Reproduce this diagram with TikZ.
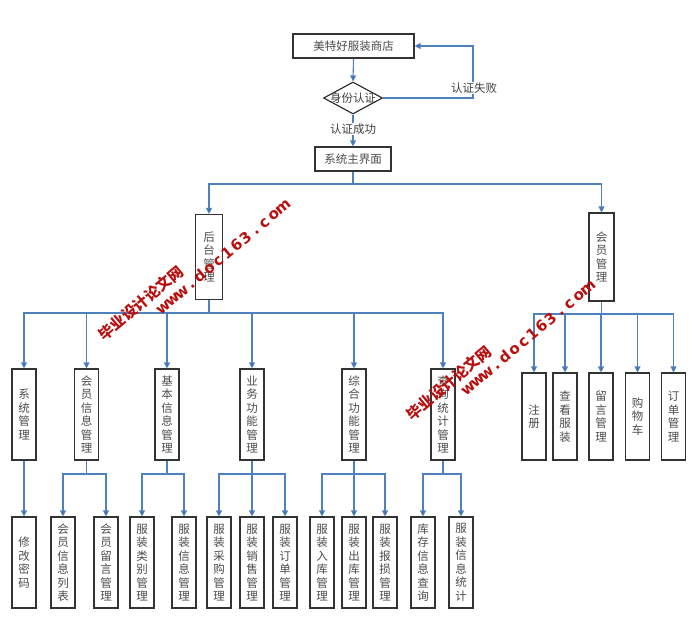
\documentclass[tikz,border=0pt]{standalone}
\usepackage{fontspec}
\setmainfont{Noto Sans CJK SC}
\newfontfamily\wmfont{DejaVu Sans}
\usetikzlibrary{arrows.meta,shapes.geometric}
\definecolor{linkblue}{RGB}{79,129,189}
\definecolor{arrowblue}{RGB}{62,102,170}
\definecolor{wmred}{RGB}{185,15,15}
\tikzset{
  box/.style={draw=black!80,line width=1.1pt,fill=white,inner sep=0pt,text=black!70,font=\fontsize{11.5}{13.5}\selectfont,align=center},
  hbox/.style={box,minimum height=24pt},
  vbox/.style={box,minimum width=24pt,minimum height=91pt,text width=12pt},
  link/.style={draw=linkblue,line width=1.1pt},
  arr/.style={link,-{Triangle[length=6pt,width=6pt,fill=arrowblue]}},
  lbl/.style={fill=white,inner sep=1pt,text=black!75,font=\fontsize{11.5}{13}\selectfont},
  wmcjk/.style={text=wmred,font=\bfseries\fontsize{15}{15}\selectfont,inner sep=0pt},
  wmark/.style={text=wmred,font=\wmfont\bfseries\fontsize{15}{15}\selectfont,anchor=base,inner sep=0pt}
}
\begin{document}
\begin{tikzpicture}[x=1pt,y=-1pt]
\path[fill=white,use as bounding box] (0,0) rectangle (694,630);
\node[hbox,minimum width=121pt] (shop) at (353.5,46) {美特好服装商店};
\node[diamond,draw=black!85,line width=1.1pt,minimum width=59pt,minimum height=32pt,inner sep=0pt] (auth) at (353,98) {};
\node[hbox,minimum width=76pt] (menu) at (353,159) {系统主界面};
\node[vbox,minimum width=27pt,minimum height=85pt] (back) at (209,257) {后\\台\\管\\理};
\node[vbox,minimum width=25pt,minimum height=88pt] (member) at (601.5,257) {会\\员\\管\\理};
\node[vbox] (sys) at (24,414.5) {系\\统\\管\\理};
\node[vbox] (vip) at (86.5,414.5) {会\\员\\信\\息\\管\\理};
\node[vbox] (basic) at (167,414.5) {基\\本\\信\\息\\管\\理};
\node[vbox] (biz) at (252,414.5) {业\\务\\功\\能\\管\\理};
\node[vbox] (comp) at (354,414.5) {综\\合\\功\\能\\管\\理};
\node[vbox] (stat) at (443,414.5) {查\\询\\统\\计\\管\\理};
\node[vbox,minimum height=87pt] (reg) at (534,416.5) {注\\册};
\node[vbox,minimum height=87pt] (view) at (565,416.5) {查\\看\\服\\装};
\node[vbox,minimum height=87pt] (msg) at (601,416.5) {留\\言\\管\\理};
\node[vbox,minimum height=87pt] (cart) at (637.5,416.5) {购\\物\\车};
\node[vbox,minimum height=87pt] (order) at (673.5,416.5) {订\\单\\管\\理};
\node[vbox] (pwd) at (24,562.5) {修\\改\\密\\码};
\node[vbox] (vlist) at (63,562.5) {会\\员\\信\\息\\列\\表};
\node[vbox] (vmsg) at (106,562.5) {会\\员\\留\\言\\管\\理};
\node[vbox] (ctype) at (142,562.5) {服\\装\\类\\别\\管\\理};
\node[vbox] (cinfo) at (184,562.5) {服\\装\\信\\息\\管\\理};
\node[vbox] (cbuy) at (219,562.5) {服\\装\\采\\购\\管\\理};
\node[vbox] (csale) at (252,562.5) {服\\装\\销\\售\\管\\理};
\node[vbox] (corder) at (285,562.5) {服\\装\\订\\单\\管\\理};
\node[vbox] (cin) at (322,562.5) {服\\装\\入\\库\\管\\理};
\node[vbox] (cout) at (354,562.5) {服\\装\\出\\库\\管\\理};
\node[vbox] (closs) at (385,562.5) {服\\装\\报\\损\\管\\理};
\node[vbox] (squery) at (423,562.5) {库\\存\\信\\息\\查\\询};
\node[vbox] (sstat) at (461,562.5) {服\\装\\信\\息\\统\\计};
\coordinate (failC) at (473,98);
\coordinate (busTop) at (353,184);
\coordinate (busL) at (209,313);
\coordinate (busR) at (601.5,314);
\coordinate (busVip) at (86.5,474);
\coordinate (busBasic) at (167,474);
\coordinate (busBiz) at (252,474);
\coordinate (busComp) at (354,474);
\coordinate (busStat) at (443,474);
\draw[arr] (shop.south) -- (auth.north);
\draw[arr] (auth.south) -- (menu.north);
\draw[arr] (auth.east) -- (failC) |- (shop.east);
\draw[link] (menu.south) -- (busTop);
\draw[arr] (busTop) -| (back.north);
\draw[arr] (busTop) -| (member.north);
\draw[link] (back.south) -- (busL);
\draw[arr] (busL) -| (sys.north);
\draw[arr] (busL) -| (vip.north);
\draw[arr] (busL) -| (basic.north);
\draw[arr] (busL) -| (biz.north);
\draw[arr] (busL) -| (comp.north);
\draw[arr] (busL) -| (stat.north);
\draw[link] (member.south) -- (busR);
\draw[arr] (busR) -| (reg.north);
\draw[arr] (busR) -| (view.north);
\draw[arr] (busR) -| (msg.north);
\draw[arr] (busR) -| (cart.north);
\draw[arr] (busR) -| (order.north);
\draw[arr] (sys.south) -- (pwd.north);
\draw[link] (vip.south) -- (busVip);
\draw[arr] (busVip) -| (vlist.north);
\draw[arr] (busVip) -| (vmsg.north);
\draw[link] (basic.south) -- (busBasic);
\draw[arr] (busBasic) -| (ctype.north);
\draw[arr] (busBasic) -| (cinfo.north);
\draw[link] (biz.south) -- (busBiz);
\draw[arr] (busBiz) -| (cbuy.north);
\draw[arr] (busBiz) -- (csale.north);
\draw[arr] (busBiz) -| (corder.north);
\draw[link] (comp.south) -- (busComp);
\draw[arr] (busComp) -| (cin.north);
\draw[arr] (busComp) -- (cout.north);
\draw[arr] (busComp) -| (closs.north);
\draw[link] (stat.south) -- (busStat);
\draw[arr] (busStat) -| (squery.north);
\draw[arr] (busStat) -| (sstat.north);
\node[lbl,fill=none] (authTxt) at (auth) {身份认证};
\node[lbl] (okLbl) at (353,129) {认证成功};
\node[lbl] (failLbl) at (474,88) {认证失败};
\node[wmcjk,rotate=40] (wmTitleA) at (141,303) {毕业设计论文网};
\node[wmcjk,rotate=40] (wmTitleB) at (449,383) {毕业设计论文网};
\foreach \ch [count=\i] in {w,w,w,.,d,o,c,1,6,3,.,c,o,m}{
  \node[wmark,rotate=40] (wmUrlA\i) at ({226+(\i-7.5)*12*cos(40)},{261-(\i-7.5)*12*sin(40)}) {\ch};
  \node[wmark,rotate=40] (wmUrlB\i) at ({531+(\i-7.5)*12*cos(40)},{342-(\i-7.5)*12*sin(40)}) {\ch};
}
\end{tikzpicture}
\end{document}
